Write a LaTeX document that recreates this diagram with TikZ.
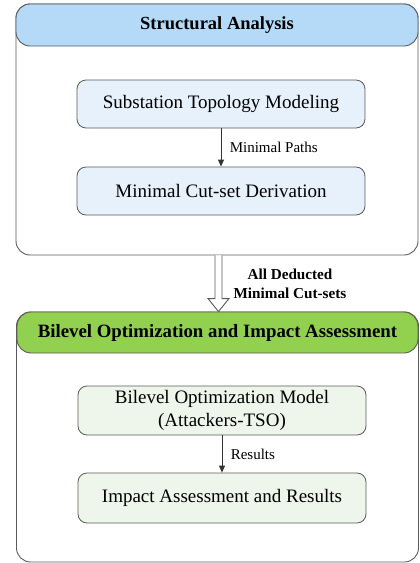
\documentclass[tikz,border=0pt]{standalone}
\usepackage{fontspec}
\setmainfont{Liberation Serif}
\usetikzlibrary{calc,arrows.meta}
\definecolor{hdrblue}{HTML}{B4DAF8}
\definecolor{hdrgreen}{HTML}{92D050}
\definecolor{boxblue}{HTML}{E6F1FB}
\definecolor{boxgreen}{HTML}{EEF5EA}
\definecolor{edge}{HTML}{5A5A5A}
\tikzset{
  container/.style={draw=edge, line width=0.9pt, rounded corners=14pt, minimum width=402pt, inner sep=0pt},
  header/.style={draw=edge, line width=0.9pt, rounded corners=14pt, minimum width=402pt, minimum height=42pt, font=\fontsize{18.5}{20}\selectfont\bfseries},
  stepbox/.style={draw=edge, line width=0.8pt, rounded corners=9pt, minimum width=288pt, minimum height=48pt, font=\fontsize{19}{22}\selectfont, align=center},
  conn/.style={draw=black!80, line width=0.9pt, -{Triangle[length=7pt,width=6pt]}},
  lbl/.style={font=\fontsize{15}{17}\selectfont, anchor=west}
}
\begin{document}
\begin{tikzpicture}[x=1pt,y=-1pt]
\useasboundingbox (0,0) rectangle (420,563);
% top container
\node[container, minimum height=251pt] (c1) at (217,129.5) {};
\node[header, fill=hdrblue] (h1) at (217,25) {Structural Analysis};
\node[stepbox, fill=boxblue] (b1) at (221,104) {Substation Topology Modeling};
\node[stepbox, fill=boxblue] (b2) at (221,191) {Minimal Cut-set Derivation};
\draw[conn] (b1.south) -- (b2.north) node[midway, lbl, xshift=5pt] {Minimal Paths};
% bottom container
\node[container, minimum height=250pt] (c2) at (217.5,437) {};
\node[header, fill=hdrgreen, minimum width=401pt, minimum height=41pt] (h2) at (217.5,332.5) {\fontsize{18.8}{20}\selectfont Bilevel Optimization and Impact Assessment};
\node[stepbox, fill=boxgreen, minimum height=49pt, font=\fontsize{19}{23}\selectfont, align=center] (b3) at (222,410.5) {Bilevel Optimization Model\\(Attackers-TSO)};
\node[stepbox, fill=boxgreen, minimum height=50pt] (b4) at (222,498) {Impact Assessment and Results};
\draw[conn] (b3.south) -- (b4.north) node[midway, lbl, xshift=5pt] {Results};
% hollow arrow between containers
\coordinate (as) at ($(c1.south)+(1.5,0)$);
\coordinate (ae) at ($(c2.north)+(1,0)$);
\draw[draw=edge, line width=0.9pt, fill=white, line join=miter]
  ($(as)+(-3.5,0)$) -- ($(ae)+(-3.5,-13)$) -- ($(ae)+(-10.5,-13)$) -- (ae)
  -- ($(ae)+(10.5,-13)$) -- ($(ae)+(3.5,-13)$) -- ($(as)+(3.5,0)$);
\node[font=\fontsize{15.2}{19}\selectfont\bfseries, align=center] (al) at (290,283.5) {All Deducted\\Minimal Cut-sets};
\end{tikzpicture}
\end{document}
